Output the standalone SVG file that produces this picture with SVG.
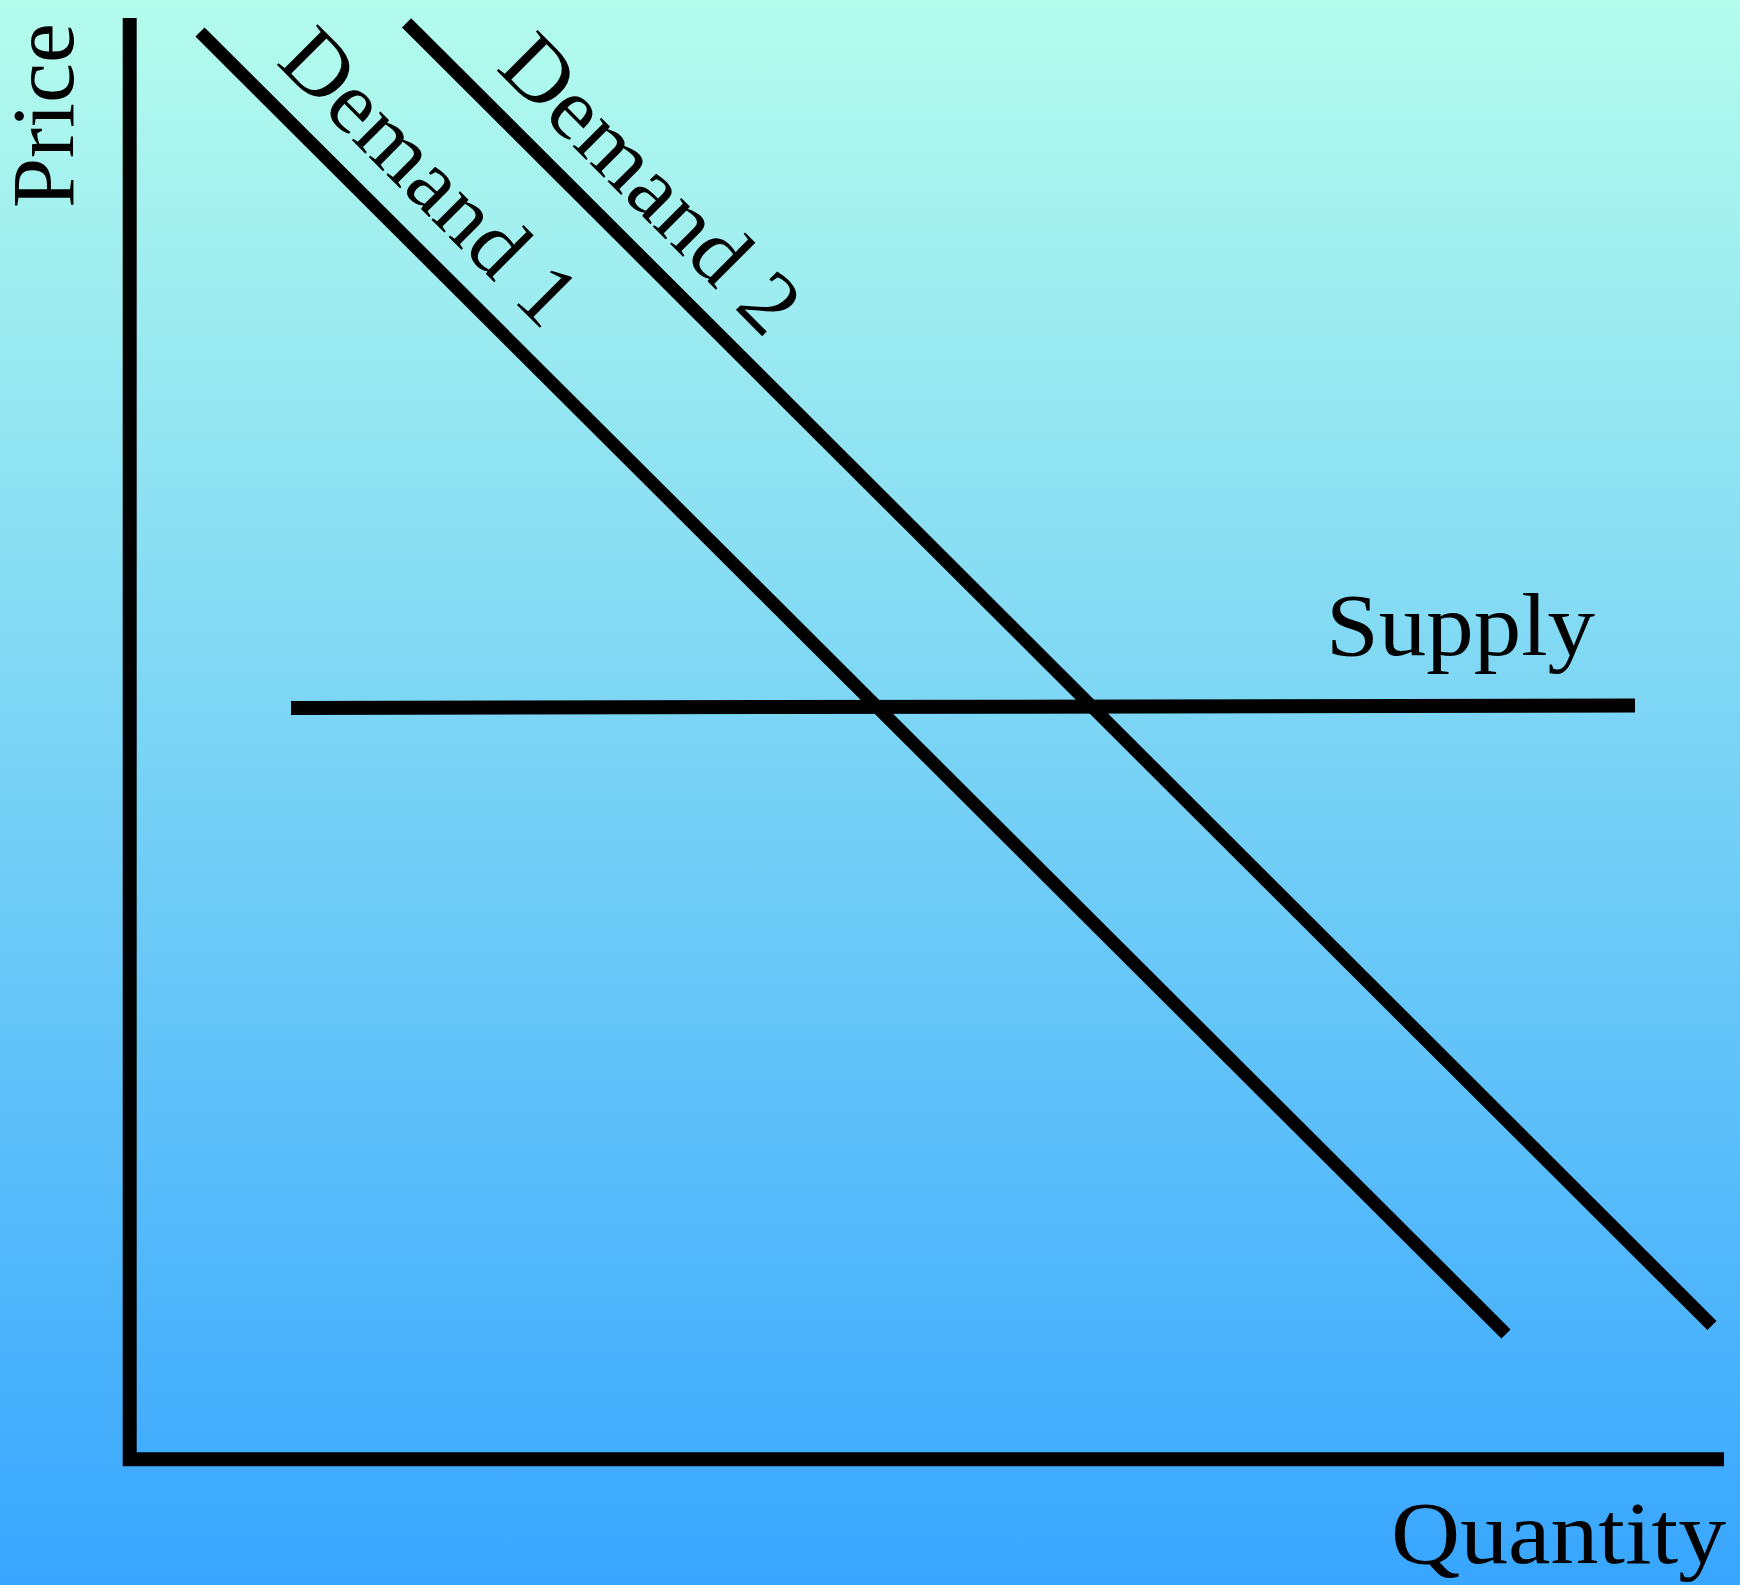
<svg xmlns="http://www.w3.org/2000/svg" width="1740" height="1585" viewBox="0 0 1740 1585">
  <defs>
    <linearGradient id="bg" x1="0" y1="0" x2="0" y2="1">
      <stop offset="0" stop-color="#b4fcec"/>
      <stop offset="1" stop-color="#38a6ff"/>
    </linearGradient>
  </defs>
  <style>
    .ln { fill: none; stroke: #000; stroke-linecap: butt; stroke-linejoin: miter; }
    .lbl { font-family: "Liberation Serif", "Times New Roman", serif; font-size: 88px; fill: #000; }
  </style>
  <rect x="0" y="0" width="1740" height="1585" fill="url(#bg)"/>
  <g id="connectors">
    <path id="axes" class="ln" stroke-width="14" d="M129.7 18 V1459.3 H1724"/>
    <line id="demand1-line" class="ln" stroke-width="13" x1="200" y1="32" x2="1506" y2="1334"/>
    <line id="demand2-line" class="ln" stroke-width="13" x1="406.6" y1="22.8" x2="1712" y2="1325.5"/>
    <line id="supply-line" class="ln" stroke-width="14" x1="291" y1="708" x2="1635" y2="705.5"/>
  </g>
  <g id="price-label">
    <text class="lbl" transform="translate(73,208) rotate(-90)" textLength="185" lengthAdjust="spacingAndGlyphs">Price</text>
  </g>
  <g id="quantity-label">
    <text class="lbl" x="1391" y="1563" textLength="335" lengthAdjust="spacingAndGlyphs">Quantity</text>
  </g>
  <g id="supply-label">
    <text class="lbl" x="1326" y="655" textLength="269" lengthAdjust="spacingAndGlyphs">Supply</text>
  </g>
  <g id="demand1-label">
    <text class="lbl" transform="translate(274.9,63.1) rotate(45)" textLength="380" lengthAdjust="spacingAndGlyphs">Demand 1</text>
  </g>
  <g id="demand2-label">
    <text class="lbl" transform="translate(495,68.8) rotate(45)" textLength="383" lengthAdjust="spacingAndGlyphs">Demand 2</text>
  </g>
</svg>
